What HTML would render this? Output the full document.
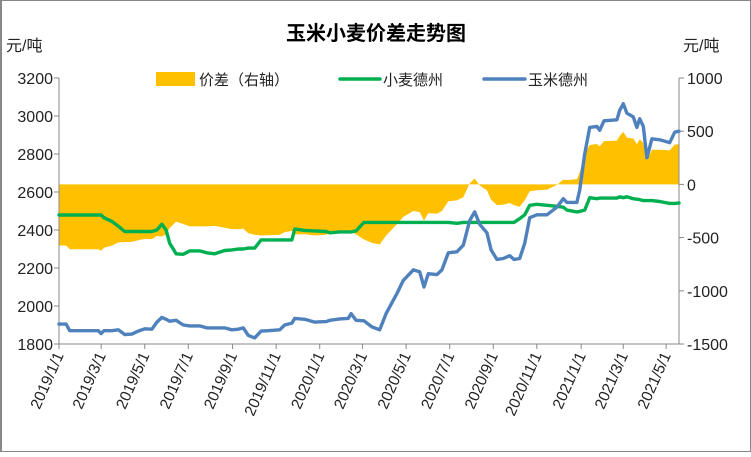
<!DOCTYPE html>
<html><head><meta charset="utf-8"><style>
body{margin:0;background:#fff}
svg text{font-family:"Liberation Sans","Noto Sans CJK SC",sans-serif}
</style></head><body>
<svg id="chart" width="751" height="452" viewBox="0 0 751 452" xmlns="http://www.w3.org/2000/svg">
<rect x="0.5" y="0.5" width="750" height="451" fill="#fff" stroke="#888" stroke-width="1"/>
<line x1="1" y1="0" x2="1" y2="452" stroke="#888" stroke-width="2"/>
<text x="376" y="40" font-size="20" font-weight="bold" text-anchor="middle" fill="#000">玉米小麦价差走势图</text>
<text x="6" y="51" font-size="16" fill="#222">元/吨</text>
<text x="683" y="51" font-size="16" fill="#222">元/吨</text>
<g>
<rect x="156" y="72" width="39" height="14" fill="#ffc000"/>
<text x="199" y="85" font-size="15" fill="#222">价差（右轴）</text>
<line x1="340" y1="79" x2="380" y2="79" stroke="#00b050" stroke-width="3.5" stroke-linecap="round"/>
<text x="383" y="85" font-size="15" fill="#222">小麦德州</text>
<line x1="484" y1="79" x2="525" y2="79" stroke="#4f81bd" stroke-width="3.5" stroke-linecap="round"/>
<text x="528" y="85" font-size="15" fill="#222">玉米德州</text>
</g>
<g id="plot"></g>
</svg>
<script>
const dayOffsets=[0,10,15,55,59,63,74,83,92,102,111,120,130,137,144,150,155,164,174,183,197,207,218,232,242,251,258,265,274,283,293,309,316,326,330,344,358,374,379,393,405,409,416,427,438,449,458,473,482,496,505,511,517,529,536,545,557,566,575,582,589,599,605,613,622,631,637,645,652,659,669,683,697,706,711,725,729,736,743,753,757,763,781,785,790,795,804,809,813,818,823,830,841,855,862,868];
const cornPrices=[1905,1905,1870,1870,1855,1870,1870,1875,1850,1852,1868,1880,1878,1915,1940,1930,1920,1925,1900,1895,1895,1885,1885,1885,1875,1878,1885,1845,1832,1868,1870,1875,1900,1910,1935,1930,1915,1918,1925,1932,1935,1960,1925,1922,1890,1875,1960,2065,2135,2190,2180,2100,2170,2165,2190,2280,2285,2320,2450,2495,2430,2385,2295,2245,2250,2265,2245,2250,2330,2465,2480,2480,2520,2565,2545,2545,2610,2800,2940,2945,2925,2975,2980,3030,3065,3015,2995,2940,2985,2945,2780,2880,2875,2860,2915,2920];
const wheatPrices=[2479,2479,2479,2479,2479,2465,2445,2420,2392,2392,2392,2392,2392,2400,2430,2400,2330,2275,2272,2290,2290,2280,2275,2292,2295,2300,2300,2305,2305,2348,2348,2348,2348,2348,2405,2398,2395,2392,2385,2390,2390,2390,2395,2440,2440,2440,2440,2440,2440,2440,2440,2440,2440,2440,2440,2440,2435,2440,2440,2440,2440,2440,2440,2440,2440,2440,2440,2460,2480,2530,2535,2530,2525,2520,2505,2495,2498,2505,2570,2565,2568,2568,2568,2575,2570,2575,2565,2562,2560,2555,2555,2555,2550,2540,2540,2542];
const spreadValues=[-574,-574,-609,-609,-624,-595,-575,-545,-542,-540,-524,-512,-514,-485,-490,-470,-410,-350,-372,-395,-395,-395,-390,-407,-420,-422,-415,-460,-473,-480,-478,-473,-448,-438,-470,-468,-480,-474,-460,-458,-455,-430,-470,-518,-550,-565,-480,-375,-305,-250,-260,-340,-270,-275,-250,-160,-150,-120,10,55,-10,-55,-145,-195,-190,-175,-195,-210,-150,-65,-55,-50,-5,45,40,50,112,295,370,380,357,407,412,455,495,440,430,378,425,390,225,325,325,320,375,378];
const leftTicks=[1800,2000,2200,2400,2600,2800,3000,3200];
const rightTicks=[-1500,-1000,-500,0,500,1000];
const xTickLabels=["2019/1/1","2019/3/1","2019/5/1","2019/7/1","2019/9/1","2019/11/1","2020/1/1","2020/3/1","2020/5/1","2020/7/1","2020/9/1","2020/11/1","2021/1/1","2021/3/1","2021/5/1"];
const xTickDays=[0,59,120,181,243,304,365,425,486,547,608,669,731,790,850];

const NS="http://www.w3.org/2000/svg";
const L=59,R=679,T=78,B=344,totalDays=868;
const xs=d=>L+d*(R-L)/totalDays;
const yL=v=>B-(v-1800)*(B-T)/1400;
const yR=v=>B-(v+1500)*(B-T)/2500;
const plot=document.getElementById('plot');
function mk(tag,attrs){const e=document.createElementNS(NS,tag);for(const k in attrs)e.setAttribute(k,attrs[k]);plot.appendChild(e);return e;}

let d="M"+xs(dayOffsets[0])+","+yR(0);
dayOffsets.forEach((t,i)=>{d+=" L"+xs(t).toFixed(1)+","+yR(spreadValues[i]).toFixed(1);});
d+=" L"+xs(dayOffsets[dayOffsets.length-1])+","+yR(0)+" Z";
const area=mk('path',{d:d,fill:'#ffc000'});



const ax1=mk('line',{x1:L,y1:T,x2:L,y2:B,stroke:'#888','stroke-width':1});


const ax2=mk('line',{x1:R,y1:T,x2:R,y2:B,stroke:'#888','stroke-width':1});


const ax3=mk('line',{x1:L,y1:B,x2:R,y2:B,stroke:'#888','stroke-width':1});



leftTicks.forEach(v=>{
  mk('line',{x1:L-5,y1:yL(v),x2:L,y2:yL(v),stroke:'#888'});
  const t=mk('text',{x:L-6,y:yL(v)+6,'font-size':16,'text-anchor':'end',fill:'#222'});
  t.textContent=v;
  
  
});
rightTicks.forEach(v=>{
  mk('line',{x1:R,y1:yR(v),x2:R+5,y2:yR(v),stroke:'#888'});
  const t=mk('text',{x:R+8,y:yR(v)+6,'font-size':16,fill:'#222'});
  t.textContent=v;
  
  
});
xTickDays.forEach((dd,i)=>{
  const x=xs(dd);
  mk('line',{x1:x,y1:B,x2:x,y2:B+5,stroke:'#888'});
  const t=mk('text',{x:x+5,y:B+11,'font-size':15.5,'text-anchor':'end',fill:'#222',transform:'rotate(-66 '+(x+5)+' '+(B+11)+')'});
  t.textContent=xTickLabels[i];
  
  
});

function line(vals,yf,color,name){
  const pts=dayOffsets.map((t,i)=>xs(t).toFixed(1)+","+yf(vals[i]).toFixed(1)).join(" ");
  const p=mk('polyline',{points:pts,fill:'none',stroke:color,'stroke-width':3.4,'stroke-linejoin':'round','stroke-linecap':'round'});
  
  
}
line(wheatPrices,yL,'#00b050','wheat-dezhou-line');
line(cornPrices,yL,'#4f81bd','corn-dezhou-line');
</script>
</body></html>
